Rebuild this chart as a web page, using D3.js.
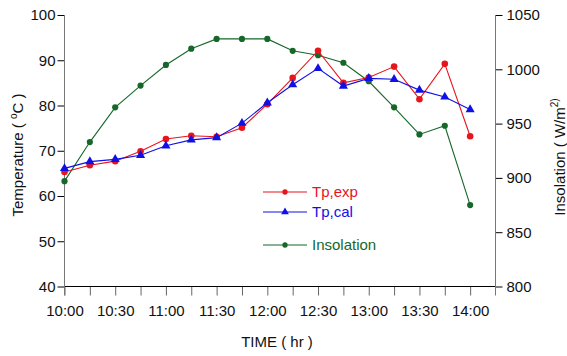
<!DOCTYPE html>
<html>
<head>
<meta charset="utf-8">
<script src="https://cdn.jsdelivr.net/npm/d3@7/dist/d3.min.js"></script>
<style>
  html, body { margin: 0; padding: 0; background: #fff; }
  svg { display: block; font-family: "Liberation Sans", Arial, sans-serif; }
</style>
</head>
<body>
<svg id="chart" width="567" height="356"></svg>
<script>
// Minutes after 10:00, one reading every 15 minutes
const minutes = [0, 15, 30, 45, 60, 75, 90, 105, 120, 135, 150, 165, 180, 195, 210, 225, 240];
// Plate temperature, measured (°C)
const tpExp = [65.3, 66.8, 67.7, 69.9, 72.6, 73.3, 73.1, 75.1, 80.3, 86.1, 92.1, 85.0, 86.2, 88.6, 81.4, 89.2, 73.2];
// Plate temperature, calculated (°C)
const tpCal = [66.1, 67.6, 68.1, 69.0, 71.1, 72.4, 72.9, 76.1, 80.6, 84.6, 88.2, 84.3, 86.0, 85.8, 83.4, 81.9, 79.1];
// Solar insolation (W/m²)
const insolation = [897, 933, 965, 985, 1004, 1019, 1028, 1028, 1028, 1017, 1013, 1006, 989, 965, 940, 948, 875];

const xTickMinutes = [0, 15, 30, 45, 60, 75, 90, 105, 120, 135, 150, 165, 180, 195, 210, 225, 240];
const xTickLabels = ["10:00", "", "10:30", "", "11:00", "", "11:30", "", "12:00", "", "12:30", "", "13:00", "", "13:30", "", "14:00"];
const tempTicks = [40, 50, 60, 70, 80, 90, 100];
const insTicks = [800, 850, 900, 950, 1000, 1050];

const RED = "#e8141c", BLUE = "#1010e6", GREEN = "#16672a";

const svg = d3.select("#chart");
const L = 64.5, R = 495.5, T = 15, B = 286.5;

const x = d3.scaleLinear().domain([0, 255]).range([L, R]);
const yT = d3.scaleLinear().domain([40, 100]).range([B, T]);
const yI = d3.scaleLinear().domain([800, 1050]).range([B, T]);

// Bottom axis
const xAxis = d3.axisBottom(x)
  .tickValues(xTickMinutes)
  .tickFormat((d, i) => xTickLabels[i])
  .tickSize(9).tickPadding(10);
const gx = svg.append("g").attr("transform", `translate(0,${B})`).call(xAxis);
gx.select(".domain").remove();
gx.selectAll(".tick line").attr("stroke", "#666");
gx.selectAll("text").attr("font-size", 15).attr("fill", "#111");

// Left axis
const gl = svg.append("g").attr("transform", `translate(${L},0)`)
  .call(d3.axisLeft(yT).tickValues(tempTicks).tickFormat(d3.format("d")).tickSize(7).tickPadding(2));
gl.select(".domain").remove();
gl.selectAll(".tick line").attr("stroke", "#000");
gl.selectAll("text").attr("font-size", 15).attr("fill", "#111");

// Right axis
const gr = svg.append("g").attr("transform", `translate(${R},0)`)
  .call(d3.axisRight(yI).tickValues(insTicks).tickFormat(d3.format("d")).tickSize(7).tickPadding(4));
gr.select(".domain").remove();
gr.selectAll(".tick line").attr("stroke", "#000");
gr.selectAll("text").attr("font-size", 15).attr("fill", "#111");

// Axis lines
svg.append("line").attr("x1", L).attr("x2", R).attr("y1", B).attr("y2", B)
  .attr("stroke", "#000").attr("stroke-width", 1);
svg.append("line").attr("x1", L).attr("x2", L).attr("y1", T).attr("y2", B + 9)
  .attr("stroke", "#777").attr("stroke-width", 1);
svg.append("line").attr("x1", R).attr("x2", R).attr("y1", T).attr("y2", B + 9)
  .attr("stroke", "#777").attr("stroke-width", 1);

// Series
function drawSeries(values, yScale, color, symbol, size) {
  const pts = values.map((v, i) => [x(minutes[i]), yScale(v)]);
  svg.append("path").datum(pts)
    .attr("d", d3.line())
    .attr("fill", "none").attr("stroke", color).attr("stroke-width", 1.1);
  svg.append("g").selectAll("path").data(pts).join("path")
    .attr("transform", d => `translate(${d[0]},${d[1]})`)
    .attr("d", d3.symbol().type(symbol).size(size))
    .attr("fill", color);
}
drawSeries(insolation, yI, GREEN, d3.symbolCircle, 30);
drawSeries(tpExp, yT, RED, d3.symbolCircle, 34);
drawSeries(tpCal, yT, BLUE, d3.symbolTriangle, 36);

// Legend
const legend = [
  { name: "Tp,exp", color: RED, symbol: d3.symbolCircle, size: 22, y: 192 },
  { name: "Tp,cal", color: BLUE, symbol: d3.symbolTriangle, size: 26, y: 212 },
  { name: "Insolation", color: GREEN, symbol: d3.symbolCircle, size: 22, y: 245 }
];
const lg = svg.append("g");
legend.forEach(d => {
  lg.append("line").attr("x1", 263).attr("x2", 307).attr("y1", d.y).attr("y2", d.y)
    .attr("stroke", d.color).attr("stroke-width", 1.1);
  lg.append("path").attr("transform", `translate(285,${d.y})`)
    .attr("d", d3.symbol().type(d.symbol).size(d.size)).attr("fill", d.color);
  lg.append("text").attr("x", 312).attr("y", d.y).attr("dy", "0.36em")
    .attr("font-size", 15).attr("fill", d.color).text(d.name);
});

// Axis titles
svg.append("text").attr("x", 277).attr("y", 347).attr("text-anchor", "middle")
  .attr("font-size", 15).attr("fill", "#111").text("TIME ( hr )");

const tl = svg.append("text").attr("transform", "translate(22.5,155) rotate(-90)")
  .attr("text-anchor", "middle").attr("font-size", 15).attr("fill", "#111");
tl.append("tspan").text("Temperature ( ");
tl.append("tspan").attr("font-size", 10).attr("dy", -6).text("o");
tl.append("tspan").attr("dy", 6).text("C )");

const tr = svg.append("text").attr("transform", "translate(565,157) rotate(-90)")
  .attr("text-anchor", "middle").attr("font-size", 15).attr("fill", "#111");
tr.append("tspan").text("Insolation ( W/m");
tr.append("tspan").attr("font-size", 10).attr("dy", -7).text("2)");
</script>
</body>
</html>
